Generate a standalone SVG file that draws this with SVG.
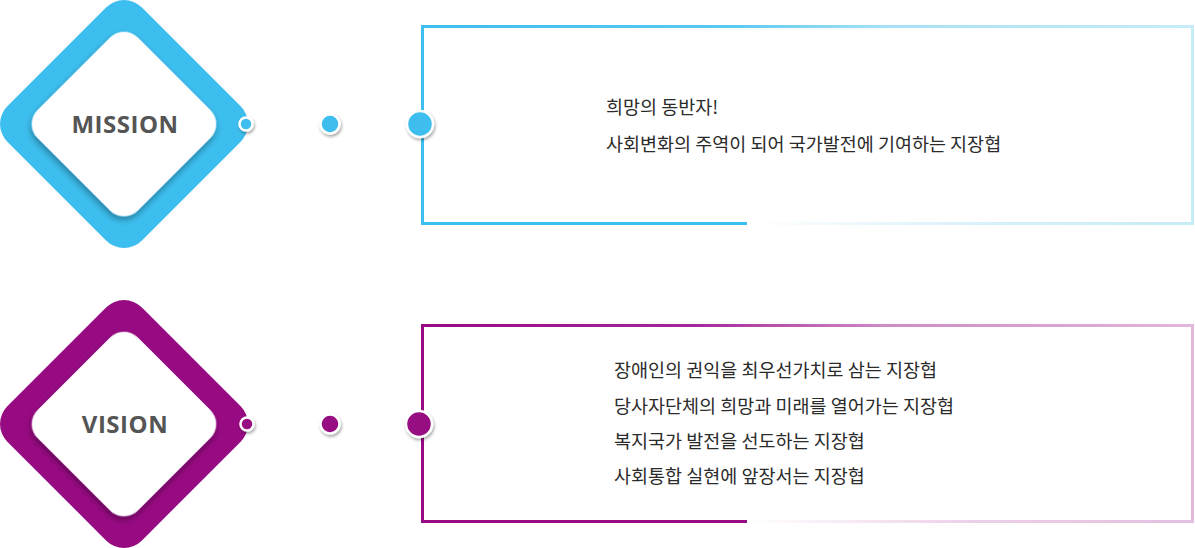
<svg xmlns="http://www.w3.org/2000/svg" width="1195" height="548" viewBox="0 0 1195 548">
<defs>
<filter id="sh" x="-30%" y="-30%" width="160%" height="160%"><feDropShadow dx="2" dy="3" stdDeviation="3" flood-color="#000" flood-opacity="0.35"/></filter>
<filter id="dsh" x="-60%" y="-60%" width="220%" height="220%"><feDropShadow dx="1" dy="2" stdDeviation="1.5" flood-color="#000" flood-opacity="0.35"/></filter>
<linearGradient id="gBtop" x1="421" y1="0" x2="1194" y2="0" gradientUnits="userSpaceOnUse"><stop offset="0" stop-color="#3cbeee"/><stop offset="0.4" stop-color="#5ac9f0"/><stop offset="0.6" stop-color="#a6e1f5"/><stop offset="1" stop-color="#c6ecf8"/></linearGradient>
<linearGradient id="gBbot" x1="748" y1="0" x2="1194" y2="0" gradientUnits="userSpaceOnUse"><stop offset="0" stop-color="#ffffff"/><stop offset="0.5" stop-color="#d9f1fa"/><stop offset="1" stop-color="#c6ecf8"/></linearGradient>
<linearGradient id="gPtop" x1="421" y1="0" x2="1194" y2="0" gradientUnits="userSpaceOnUse"><stop offset="0" stop-color="#970a82"/><stop offset="0.35" stop-color="#a3269a"/><stop offset="0.6" stop-color="#cf8bc6"/><stop offset="1" stop-color="#e2b7db"/></linearGradient>
<linearGradient id="gPbot" x1="748" y1="0" x2="1194" y2="0" gradientUnits="userSpaceOnUse"><stop offset="0" stop-color="#ffffff"/><stop offset="0.5" stop-color="#ecd0e8"/><stop offset="1" stop-color="#e4bfdf"/></linearGradient>
</defs>
<style>
.lbl{font-family:"Open Sans","Noto Sans",sans-serif;font-weight:bold;font-size:24px;fill:#555;text-anchor:middle;letter-spacing:0.5px}
.txt{font-family:"Noto Sans CJK KR","Noto Sans",sans-serif;font-size:18.5px;fill:#2b2b2b}
.dot{stroke:#fff;stroke-width:2.5}
.b{fill:#3cbeee}
.p{fill:#970a82}
</style>
<g id="mission">
<rect class="b" x="-95" y="-95" width="190" height="190" rx="25" transform="translate(124,124) rotate(45)"/>
<rect fill="#fff" filter="url(#sh)" x="-71" y="-71" width="142" height="142" rx="20" transform="translate(124,124) rotate(45)"/>
<text class="lbl" x="125" y="133">MISSION</text>
</g>
<g id="mission-box">
<line x1="422.5" y1="25" x2="422.5" y2="225" stroke="#3cbeee" stroke-width="3"/>
<line x1="421" y1="26.5" x2="1194" y2="26.5" stroke="url(#gBtop)" stroke-width="3"/>
<line x1="1192.5" y1="25" x2="1192.5" y2="225" stroke="#c6ecf8" stroke-width="3"/>
<line x1="421" y1="223.5" x2="747" y2="223.5" stroke="#3cbeee" stroke-width="3"/>
<line x1="749" y1="223.5" x2="1194" y2="223.5" stroke="url(#gBbot)" stroke-width="3"/>
<text class="txt" x="606" y="114">희망의 동반자!</text>
<text class="txt" x="606" y="151">사회변화의 주역이 되어 국가발전에 기여하는 지장협</text>
</g>
<g id="mission-dots" filter="url(#dsh)">
<circle class="b dot" cx="246" cy="124" r="6.5"/>
<circle class="b dot" cx="330" cy="124" r="9.5"/>
<circle class="b dot" cx="420" cy="124" r="13"/>
</g>
<g id="vision">
<rect class="p" x="-95" y="-95" width="190" height="190" rx="25" transform="translate(124,424) rotate(45)"/>
<rect fill="#fff" filter="url(#sh)" x="-71" y="-71" width="142" height="142" rx="20" transform="translate(124,424) rotate(45)"/>
<text class="lbl" x="125" y="433">VISION</text>
</g>
<g id="vision-box">
<line x1="422.5" y1="324" x2="422.5" y2="523" stroke="#970a82" stroke-width="3"/>
<line x1="421" y1="325.5" x2="1194" y2="325.5" stroke="url(#gPtop)" stroke-width="3"/>
<line x1="1192.5" y1="324" x2="1192.5" y2="523" stroke="#e2b8db" stroke-width="3"/>
<line x1="421" y1="521.5" x2="747" y2="521.5" stroke="#970a82" stroke-width="3"/>
<line x1="749" y1="521.5" x2="1194" y2="521.5" stroke="url(#gPbot)" stroke-width="3"/>
<text class="txt" x="614" y="377">장애인의 권익을 최우선가치로 삼는 지장협</text>
<text class="txt" x="614" y="413">당사자단체의 희망과 미래를 열어가는 지장협</text>
<text class="txt" x="614" y="448">복지국가 발전을 선도하는 지장협</text>
<text class="txt" x="614" y="483">사회통합 실현에 앞장서는 지장협</text>
</g>
<g id="vision-dots" filter="url(#dsh)">
<circle class="p dot" cx="247" cy="424" r="6.5"/>
<circle class="p dot" cx="330" cy="424" r="9.5"/>
<circle class="p dot" cx="419" cy="424" r="13"/>
</g>
</svg>
